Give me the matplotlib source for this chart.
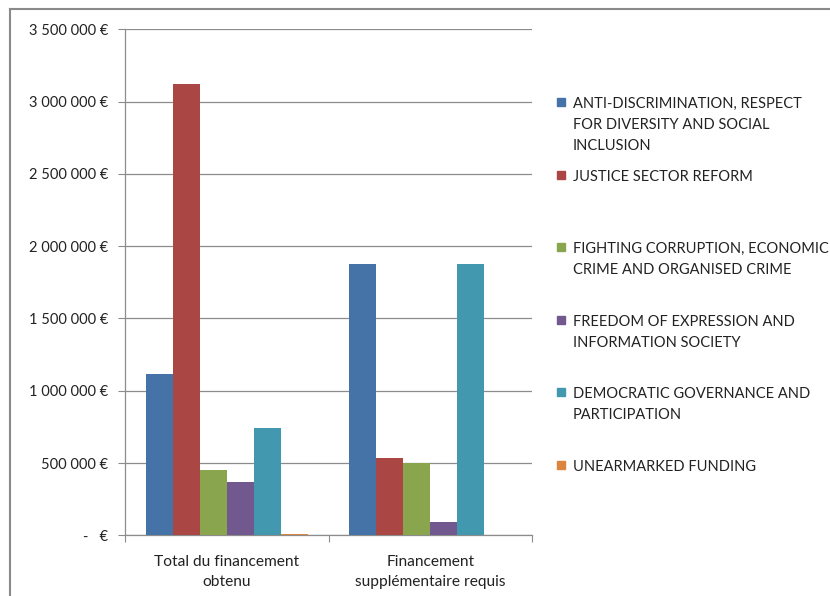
import matplotlib
matplotlib.use("Agg")
import matplotlib.pyplot as plt
from matplotlib.lines import Line2D
from matplotlib.patches import Rectangle

categories = ["Total du financement\nobtenu", "Financement\nsupplémentaire requis"]
series_names = [
    "ANTI-DISCRIMINATION, RESPECT\nFOR DIVERSITY AND SOCIAL\nINCLUSION",
    "JUSTICE SECTOR REFORM",
    "FIGHTING CORRUPTION, ECONOMIC\nCRIME AND ORGANISED CRIME",
    "FREEDOM OF EXPRESSION AND\nINFORMATION SOCIETY",
    "DEMOCRATIC GOVERNANCE AND\nPARTICIPATION",
    "UNEARMARKED FUNDING",
]
anti_discrimination = [1115000, 1880000]
justice_reform = [3120000, 535000]
fighting_corruption = [452000, 498000]
freedom_expression = [367000, 94000]
democratic_governance = [742000, 1875000]
unearmarked = [12000, 0]
series_values = [anti_discrimination, justice_reform, fighting_corruption,
                 freedom_expression, democratic_governance, unearmarked]
colors = ["#4572A7", "#AA4643", "#89A54E", "#71588F", "#4198AF", "#DB843D"]
yticks = [0, 500000, 1000000, 1500000, 2000000, 2500000, 3000000, 3500000]
ytick_labels = ["-   €", "500 000 €", "1 000 000 €", "1 500 000 €", "2 000 000 €",
                "2 500 000 €", "3 000 000 €", "3 500 000 €"]

plt.rcParams['font.family'] = ['Lato', 'DejaVu Sans']
W, H = 830, 596
fig = plt.figure(figsize=(W / 100, H / 100), dpi=100)
ax = fig.add_axes([125 / W, 1 - 535.3 / H, (532 - 125) / W, (535.3 - 29.3) / H])

bw = 27 / 203.5
n = len(series_values)
for i, (vals, c) in enumerate(zip(series_values, colors)):
    xs = [k + (i - (n - 1) / 2) * bw for k in range(len(categories))]
    ax.bar(xs, vals, width=bw, color=c, edgecolor='none', zorder=3)

ax.set_xlim(-0.5, 1.5)
ax.set_ylim(0, 3500000)
ax.set_yticks(yticks)
ax.set_yticklabels(ytick_labels, fontsize=10.5, color="#222222")
ax.yaxis.grid(True, color="#8c8c8c", linewidth=0.9, zorder=0)
ax.set_xticks([-0.5, 0.5, 1.5], minor=False)
ax.set_xticklabels([])
ax.set_xticks([0, 1], minor=True)
ax.set_xticklabels(categories, minor=True, fontsize=11.2, color="#222222", linespacing=1.6)
ax.tick_params(axis='x', which='minor', length=0, pad=14)
ax.tick_params(axis='x', which='major', length=5, direction='out', color="#8c8c8c")
ax.tick_params(axis='y', length=5, direction='out', color="#8c8c8c", pad=7)
for s in ['top', 'right']:
    ax.spines[s].set_visible(False)
for s in ['left', 'bottom']:
    ax.spines[s].set_color("#8c8c8c")
    ax.spines[s].set_linewidth(0.9)
ax.set_facecolor('none')

# Legend (manual, Excel style)
starts = [102, 175, 247, 320, 392, 465]
for name, c, y in zip(series_names, colors, starts):
    fig.patches.append(Rectangle((557 / W, 1 - (y + 4) / H), 8 / W, 8 / H,
                                 transform=fig.transFigure, color=c, figure=fig))
    fig.text(573 / W, 1 - (y - 5) / H, name, fontsize=10.5, color="#222222",
             va='top', ha='left', linespacing=1.62)

# chart area border (cropped)
fig.add_artist(Line2D([10 / W, 1.0], [1 - 9 / H, 1 - 9 / H], transform=fig.transFigure,
                      color="#8a8a8a", linewidth=1.5))
fig.add_artist(Line2D([10 / W, 10 / W], [1 - 9 / H, 0], transform=fig.transFigure,
                      color="#8a8a8a", linewidth=1.5))

fig.savefig("out.png", dpi=100, facecolor="white")
